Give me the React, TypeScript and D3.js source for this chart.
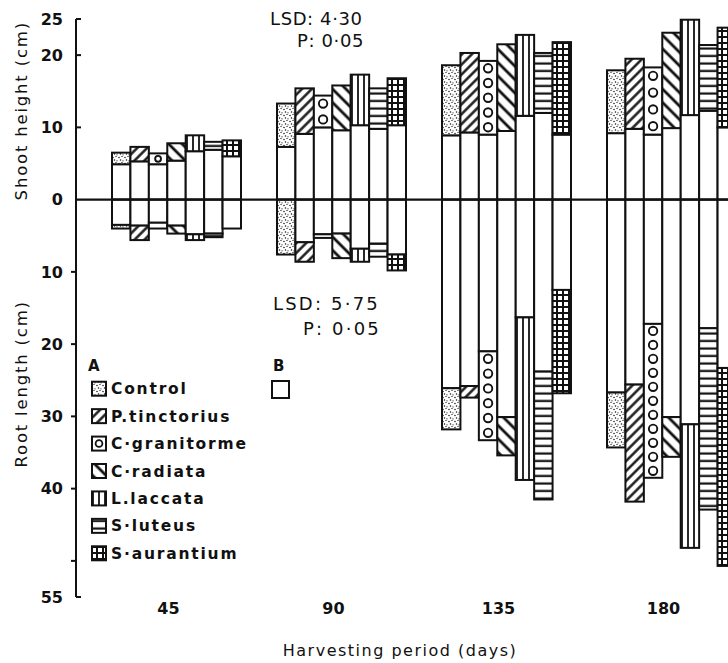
import React from 'react';
import * as d3 from 'd3';

// harvest days and treatments
const days = ['45', '90', '135', '180'];
const treatments = ['Control', 'P.tinctorius', 'C·granitorme', 'C·radiata', 'L.laccata', 'S·luteus', 'S·aurantium'];

// shoot height (cm): white part (B) and top of patterned part (A), one row per day
const shootWhite = [
  [4.9, 5.3, 4.9, 5.4, 6.7, 6.9, 6.0],
  [7.3, 9.1, 10.0, 9.6, 10.3, 9.8, 10.3],
  [8.9, 9.3, 9.0, 9.5, 11.6, 12.0, 9.0],
  [9.2, 9.8, 9.0, 9.9, 11.7, 12.3, 10.0],
];
const shootTotal = [
  [6.5, 7.3, 6.4, 7.8, 8.9, 8.0, 8.2],
  [13.3, 15.4, 14.4, 15.8, 17.3, 15.4, 16.8],
  [18.6, 20.3, 19.2, 21.5, 22.8, 20.3, 21.8],
  [17.9, 19.5, 18.3, 23.1, 24.9, 21.4, 23.8],
];

// root length (cm)
const rootWhite = [
  [3.5, 3.6, 3.2, 3.6, 4.8, 4.7, 4.0],
  [0, 5.9, 4.8, 4.7, 6.8, 6.1, 7.6],
  [26.1, 25.8, 21.0, 30.1, 16.3, 23.8, 12.5],
  [26.7, 25.6, 17.2, 30.1, 31.1, 17.8, 23.3],
];
const rootTotal = [
  [4.0, 5.6, 4.0, 4.7, 5.6, 5.2, 4.0],
  [7.6, 8.6, 5.3, 8.1, 8.6, 7.9, 9.8],
  [31.8, 27.4, 33.3, 35.4, 38.8, 41.5, 26.8],
  [34.3, 41.8, 38.5, 35.6, 48.2, 42.9, 50.7],
];

// y axis: positive = shoot, negative = root
const yTicks = [25, 20, 10, 0, -10, -20, -30, -40, -50, -55];
const yTickLabels = ['25', '20', '10', '0', '10', '20', '30', '40', '', '55'];

const fills = ['url(#stip)', 'url(#fwd)', 'circles', 'url(#back)', 'url(#vert)', 'url(#horiz)', 'url(#grid)'];

const font = "'DejaVu Sans', sans-serif";
const ink = '#111';

const Segment = ({ x, w, top, bottom, fill }) => {
  const h = bottom - top;
  if (h < 0.5) return null;
  if (fill !== 'circles') {
    return <rect x={x} y={top} width={w} height={h} fill={fill} stroke={ink} strokeWidth={2} />;
  }
  const n = Math.max(1, Math.floor(h / 13.5));
  const r = Math.min(4.2, (h - 5) / 2);
  return (
    <g>
      <rect x={x} y={top} width={w} height={h} fill="white" stroke={ink} strokeWidth={2} />
      {r > 0.8 && d3.range(n).map(k => (
        <circle key={k} cx={x + w / 2} cy={top + (h * (k + 0.5)) / n} r={r} fill="none" stroke={ink} strokeWidth={1.9} />
      ))}
    </g>
  );
};

const App = () => {
  const y = d3.scaleLinear().domain([25, -55]).range([19, 597]);
  const x = d3.scaleBand().domain(days).range([112, 736]).paddingInner(36 / 165).paddingOuter(0);
  const xi = d3.scaleBand().domain(treatments).range([0, x.bandwidth()]);
  const axisX = 76;
  const legendY = d3.scaleBand().domain(treatments).range([375, 567]);

  return (
    <svg width={728} height={663} style={{ position: 'absolute', left: 0, top: 0, display: 'block', background: 'white' }}>
      <defs>
        <pattern id="stip" patternUnits="userSpaceOnUse" width={6} height={6}>
          <rect width={6} height={6} fill="white" />
          <circle cx={1} cy={1.5} r={0.75} fill={ink} />
          <circle cx={4} cy={0.5} r={0.6} fill={ink} />
          <circle cx={2.5} cy={4} r={0.75} fill={ink} />
          <circle cx={5} cy={4.8} r={0.6} fill={ink} />
        </pattern>
        <pattern id="fwd" patternUnits="userSpaceOnUse" width={7} height={7} patternTransform="rotate(-45)">
          <rect width={7} height={7} fill="white" />
          <line x1={0} x2={7} y1={3.5} y2={3.5} stroke={ink} strokeWidth={2.4} />
        </pattern>
        <pattern id="back" patternUnits="userSpaceOnUse" width={9.5} height={9.5} patternTransform="rotate(45)">
          <rect width={9.5} height={9.5} fill="white" />
          <line x1={0} x2={9.5} y1={4.7} y2={4.7} stroke={ink} strokeWidth={2.8} />
        </pattern>
        <pattern id="vert" patternUnits="userSpaceOnUse" width={6} height={6}>
          <rect width={6} height={6} fill="white" />
          <line x1={3} x2={3} y1={0} y2={6} stroke={ink} strokeWidth={1.8} />
        </pattern>
        <pattern id="horiz" patternUnits="userSpaceOnUse" width={6} height={7.5}>
          <rect width={6} height={7.5} fill="white" />
          <line x1={0} x2={6} y1={3.5} y2={3.5} stroke={ink} strokeWidth={2.2} />
        </pattern>
        <pattern id="grid" patternUnits="userSpaceOnUse" width={6} height={6}>
          <rect width={6} height={6} fill="white" />
          <line x1={0} x2={6} y1={1} y2={1} stroke={ink} strokeWidth={2} />
          <line x1={1} x2={1} y1={0} y2={6} stroke={ink} strokeWidth={2} />
        </pattern>
      </defs>

      {/* bars */}
      {days.map((d, i) => (
        <g key={d} transform={`translate(${x(d)},0)`}>
          {treatments.map((t, j) => {
            const bx = xi(t);
            const w = xi.bandwidth();
            return (
              <g key={t}>
                <Segment x={bx} w={w} top={y(shootWhite[i][j])} bottom={y(0)} fill="white" />
                <Segment x={bx} w={w} top={y(shootTotal[i][j])} bottom={y(shootWhite[i][j])} fill={fills[j]} />
                <Segment x={bx} w={w} top={y(0)} bottom={y(-rootWhite[i][j])} fill="white" />
                <Segment x={bx} w={w} top={y(-rootWhite[i][j])} bottom={y(-rootTotal[i][j])} fill={fills[j]} />
              </g>
            );
          })}
        </g>
      ))}

      {/* zero line */}
      <line x1={axisX} x2={728} y1={y(0)} y2={y(0)} stroke={ink} strokeWidth={2.2} />

      {/* y axis */}
      <line x1={axisX} x2={axisX} y1={y(25)} y2={y(-55)} stroke={ink} strokeWidth={2} />
      {yTicks.map((v, k) => {
        const right = v > 0 || v === -55;
        return (
          <g key={v}>
            {v !== 0 && (
              <line x1={axisX} x2={right ? axisX + 5 : axisX - 5} y1={y(v)} y2={y(v)} stroke={ink} strokeWidth={2} />
            )}
            <text x={63} y={y(v)} dy="0.36em" textAnchor="end" fontFamily={font} fontWeight="bold" fontSize={16} fill={ink}>
              {yTickLabels[k]}
            </text>
          </g>
        );
      })}

      <text transform={`translate(27,${y(12.3)}) rotate(-90)`} textAnchor="middle" fontFamily={font} fontSize={16.5} letterSpacing={1.8} fill={ink}>
        Shoot height (cm)
      </text>
      <text transform={`translate(27,${y(-25.5)}) rotate(-90)`} textAnchor="middle" fontFamily={font} fontSize={16.5} letterSpacing={1.8} fill={ink}>
        Root length (cm)
      </text>

      {/* x labels */}
      {days.map(d => (
        <text key={d} x={x(d) + x.bandwidth() / 2 - 8} y={614} textAnchor="middle" fontFamily={font} fontWeight="bold" fontSize={16} fill={ink}>
          {d}
        </text>
      ))}
      <text x={400} y={656} textAnchor="middle" fontFamily={font} fontSize={16} letterSpacing={1.5} fill={ink}>
        Harvesting period (days)
      </text>

      {/* LSD notes */}
      <text x={270} y={25} fontFamily={font} fontSize={18} letterSpacing={0.6} fill={ink}>LSD: 4·30</text>
      <text x={364} y={47} textAnchor="end" fontFamily={font} fontSize={18} letterSpacing={0.6} fill={ink}>P: 0·05</text>
      <text x={273} y={310} fontFamily={font} fontSize={18} letterSpacing={2.2} fill={ink}>LSD: 5·75</text>
      <text x={381} y={335} textAnchor="end" fontFamily={font} fontSize={18} letterSpacing={2.2} fill={ink}>P: 0·05</text>

      {/* legend */}
      <text x={88} y={371} fontFamily={font} fontWeight="bold" fontSize={15} fill={ink}>A</text>
      {treatments.map((t, j) => {
        const cy = legendY(t) + legendY.bandwidth() / 2;
        return (
          <g key={t}>
            <rect x={92} y={cy - 7} width={14} height={14} fill={fills[j] === 'circles' ? 'white' : fills[j]} stroke={ink} strokeWidth={2} />
            {fills[j] === 'circles' && <circle cx={99} cy={cy} r={3.4} fill="none" stroke={ink} strokeWidth={1.8} />}
            <text x={111} y={cy} dy="0.36em" fontFamily={font} fontWeight="bold" fontSize={15.5} letterSpacing={1.8} fill={ink}>
              {t}
            </text>
          </g>
        );
      })}
      <text x={273} y={371} fontFamily={font} fontWeight="bold" fontSize={15} fill={ink}>B</text>
      <rect x={272} y={381} width={17} height={17} fill="white" stroke={ink} strokeWidth={2} />
    </svg>
  );
};

export default App;
